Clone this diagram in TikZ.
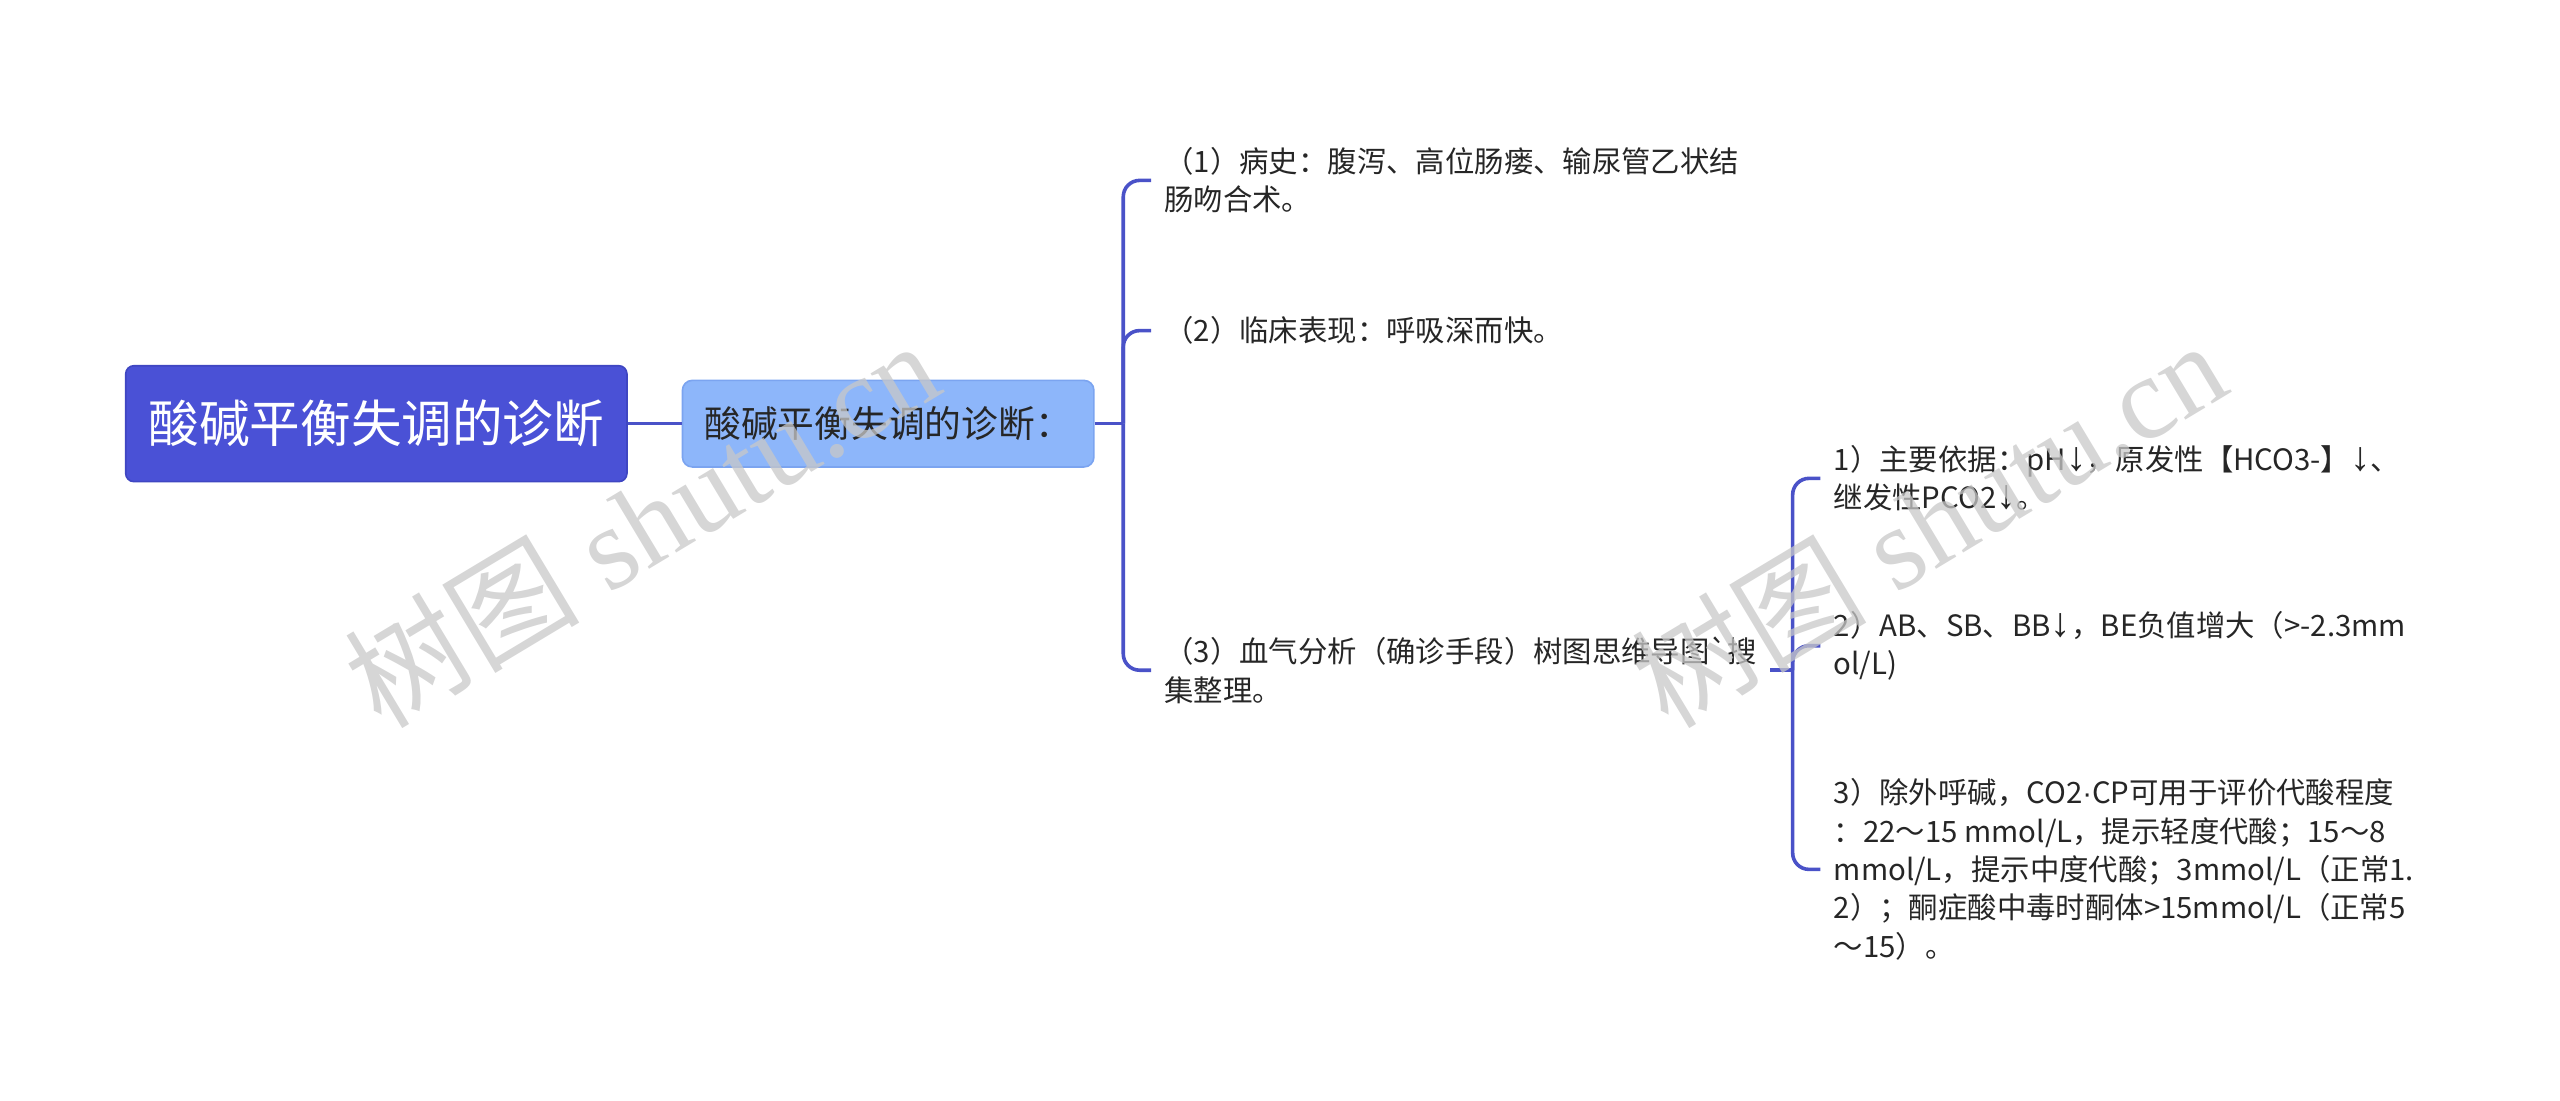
\documentclass[tikz,border=0pt]{standalone}
\usepackage{fontspec}
\setmainfont{Noto Sans CJK SC}
\newfontfamily\wmlatin{Liberation Serif}
\newfontfamily\wmcjk{Noto Sans CJK SC}
\newfontfamily\narrowsym{Liberation Sans}
\newcommand{\downmark}{{\narrowsym\fontsize{25}{23.5}\selectfont ↓}}
\newcommand{\cpdot}{{\narrowsym ·}}

\definecolor{rootblue}{HTML}{4A51D6}
\definecolor{rootedge}{HTML}{3F46C2}
\definecolor{topicblue}{HTML}{8DB6FA}
\definecolor{topicedge}{HTML}{7BA4F0}
\definecolor{linkblue}{HTML}{4A52C8}
\definecolor{textdark}{HTML}{262626}
\definecolor{wmgray}{HTML}{C8C8C8}

\begin{document}
\begin{tikzpicture}[x=1pt,y=-1pt,
    rootbox/.style={rectangle, rounded corners=5pt, fill=rootblue, draw=rootedge,
        line width=1pt, minimum width=307pt, minimum height=71pt, text=white,
        font=\fontsize{31}{36}\selectfont},
    topicbox/.style={rectangle, rounded corners=6pt, fill=topicblue, draw=topicedge,
        line width=1pt, minimum width=252pt, minimum height=53pt, text=textdark,
        font=\fontsize{22.5}{27}\selectfont},
    leaf/.style={anchor=west, align=left, inner xsep=8pt, inner ysep=0pt,
        text=textdark, font=\fontsize{18}{23.5}\selectfont},
    link/.style={draw=linkblue, line width=2.2pt, rounded corners=10pt},
    watermark/.style={text=wmgray, opacity=0.75, rotate=31, inner sep=0pt}]

    \useasboundingbox (0,0) rectangle (1568,674);

    % Root and first topic
    \node[rootbox] (root) at (230.5,259.5) {酸碱平衡失调的诊断};
    \node[topicbox] (diag) at (544,259.5) {酸碱平衡失调的诊断：};
    \coordinate (fork1) at (688,259.5);

    \node[leaf] (history) at (705,110.5)
        {（1）病史：腹泻、高位肠瘘、输尿管乙状结\\肠吻合术。};
    \node[leaf] (clinic) at (705,202.5) {（2）临床表现：呼吸深而快。};
    \node[leaf] (bloodgas) at (705,410.5)
        {（3）血气分析（确诊手段）树图思维导图\textasciigrave 搜\\集整理。};

    % Blood gas details
    \coordinate (fork2) at (1098,410.5);
    \node[leaf] (basis) at (1115,293)
        {1）主要依据：pH\downmark，原发性【HCO3-】\downmark、\\继发性PCO2\downmark。};
    \node[leaf] (base) at (1115,395.5)
        {2）AB、SB、BB\downmark，BE负值增大（>-2.3mm\\ol/L)};
    \node[leaf] (cocp) at (1115,532.5)
        {3）除外呼碱，CO2\cpdot CP可用于评价代酸程度\\：22～15 mmol/L，提示轻度代酸；15～8\\mmol/L，提示中度代酸；3mmol/L（正常1.\\2）；酮症酸中毒时酮体>15mmol/L（正常5\\～15）。};

    % Connectors
    \draw[link] (root.east) -- (diag.west);
    \draw[link] (diag.east) -- (fork1);
    \draw[link] (history.west) -| (fork1);
    \draw[link] (clinic.west) -| (fork1);
    \draw[link] (bloodgas.west) -| (fork1);
    \draw[link] (bloodgas.east) -- (fork2);
    \draw[link] (basis.west) -| (fork2);
    \draw[link] (base.west) -| (fork2);
    \draw[link] (cocp.west) -| (fork2);

    % Watermarks
    \node[watermark] (wm1) at (393,320)
        {\fontsize{72}{72}\selectfont\wmcjk 树图\wmlatin\ shutu.cn};
    \node[watermark] (wm2) at (1181,320)
        {\fontsize{72}{72}\selectfont\wmcjk 树图\wmlatin\ shutu.cn};
\end{tikzpicture}
\end{document}
